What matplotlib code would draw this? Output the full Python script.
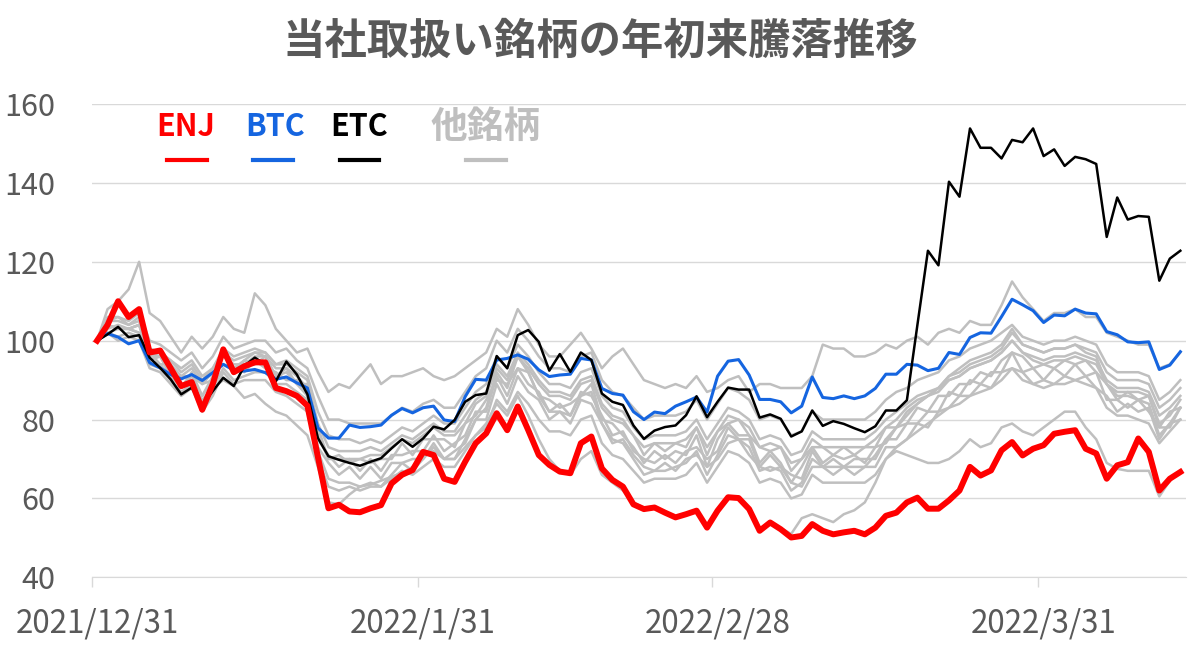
import numpy as np
import pandas as pd
import matplotlib
matplotlib.use('Agg')
import matplotlib.pyplot as plt
from matplotlib.lines import Line2D

plt.rcParams['font.family'] = ['Noto Sans CJK JP', 'DejaVu Sans']

dates = pd.date_range('2021-12-31', periods=104, freq='D')

enj = [100, 104, 110, 106, 108, 97, 97.5, 93, 88.5, 89.5,
       82.5, 89, 97.8, 92, 93.5, 94.5, 94.5, 88, 87.2, 86,
       83.5, 70.5, 57.5, 58.4, 56.7, 56.5, 57.5, 58.3, 63.8, 66,
       67.2, 71.8, 71, 65, 64.2, 69.3, 74, 76.5, 81.6, 77.3,
       83.3, 77.3, 71, 68.5, 66.8, 66.4, 74, 75.7, 67.6, 64.7,
       63, 58.5, 57.3, 57.7, 56.4, 55.2, 56, 56.9, 52.6, 56.9,
       60.3, 60.1, 57.3, 51.8, 53.9, 52.2, 50.1, 50.5, 53.5, 51.8,
       50.9, 51.4, 51.8, 50.9, 52.6, 55.6, 56.4, 59, 60.2, 57.4,
       57.4, 59.5, 62, 68, 65.8, 67.1, 72.2, 74.3, 70.9, 72.6,
       73.5, 76.4, 76.9, 77.3, 72.6, 71.4, 65, 68.4, 69.2, 75.2,
       71.8, 62, 65, 66.7]

btc = [100, 101.8, 100.9, 99.2, 100, 94.4, 93.1, 91.4, 90.3, 91.4,
       89.9, 91.9, 94, 92.5, 92.3, 92.7, 91.9, 90.2, 90.8, 89.3,
       88, 77.9, 75.3, 75.3, 78.6, 78, 78.2, 78.6, 81.1, 82.8,
       81.7, 83, 83.4, 79.9, 79.5, 85.8, 90.2, 90, 95.1, 95.5,
       96.4, 95.3, 92.6, 90.9, 91.3, 91.5, 95.5, 95.1, 87.9, 86.6,
       86.2, 82, 80, 81.9, 81.5, 83.4, 84.5, 85.7, 81.9, 91,
       94.8, 95.2, 91.3, 85.1, 85.1, 84.5, 81.7, 83.4, 90.8, 85.6,
       85.3, 86, 85.3, 86, 87.9, 91.5, 91.5, 94, 93.8, 92.4,
       93, 97, 96.5, 100.8, 102, 101.9, 106.1, 110.5, 109.1, 107.6,
       104.6, 106.5, 106.3, 108, 107, 106.8, 102.3, 101.5, 99.7, 99.5,
       99.7, 92.7, 93.8, 97.2]

etc = [100, 101.6, 103.5, 100.9, 101.4, 95.7, 93.1, 90.2, 86.4, 88.1,
       83.4, 87.2, 90.6, 88.5, 93.6, 95.7, 94, 89.7, 94.7, 91.4,
       86.4, 75.3, 70.7, 69.8, 69, 68.3, 69.3, 70.2, 72.7, 75,
       73.1, 75.2, 78.2, 77.5, 79.9, 84.5, 86.2, 86.6, 96.1, 93,
       101.4, 102.7, 99.7, 92.4, 96.6, 92.1, 97, 95.1, 86.6, 84.5,
       83.7, 78.5, 75.1, 77.2, 78.1, 78.5, 81.1, 85.9, 80.6, 84.5,
       88.1, 87.6, 87.6, 80.5, 81.3, 80.2, 75.7, 77, 82.3, 78.4,
       79.6, 78.9, 77.8, 76.8, 78.3, 82.3, 82.3, 84.9, 104, 122.8,
       119.1, 140.3, 136.5, 153.8, 148.9, 148.9, 146.2, 150.9, 150.3, 153.8,
       146.8, 148.5, 144.3, 146.6, 146, 144.8, 126.3, 136.3, 130.7, 131.6,
       131.4, 115.2, 120.8, 122.8]

# other coins (grey)
g1 = [100, 108, 110, 113, 120, 107, 105, 101, 97, 101, 98, 101, 106, 103, 102, 112, 109, 103, 100, 97, 98,
      92, 87, 89, 88, 91, 94, 89, 91, 91, 92, 93, 91, 90, 91, 93,
      95, 97, 103, 101, 108, 104, 99, 96, 96, 99, 102, 98, 93, 96, 98,
      94, 90, 89, 88, 89, 88, 91, 87, 88, 90, 91, 87, 89, 89, 88, 88, 88, 91, 99, 98, 98, 96, 96, 97, 99, 98,
      100, 101, 99, 102, 103, 102, 105, 104, 104, 109, 115, 111, 108, 105, 107, 107, 108, 106, 106, 102, 101, 100, 99, 99, 93, 94, 97]
g2 = [100, 103, 104, 103, 104, 97, 96, 93, 88, 90, 84, 88, 90, 88.5, 85.5, 86.5, 84, 82, 81, 78.5, 76,
      68, 59, 58.5, 61, 63, 63.5, 64.5, 65.5, 66.5, 68, 71, 72, 70, 70, 73,
      76, 79, 84, 81, 86, 81, 75, 70, 67, 66, 70, 72, 66, 64, 62,
      59, 57.6, 58, 56.6, 55.5, 56.2, 57.2, 53, 57.2, 60.6, 60.4, 57.6, 52, 54.2, 52.5, 51, 55, 56, 55, 54, 56, 57, 59, 64, 70, 72,
      71, 70, 69, 69, 70, 72, 75, 73, 74, 78, 79, 77, 76, 78, 80, 82, 82, 78, 75, 69, 67.5, 67, 67, 67, 60.5, 64.5, 67]
g3 = [100, 106, 106, 105, 107, 100, 99, 97, 95, 97, 93, 96, 101, 98, 99, 100, 100, 97, 98, 95, 93,
      86, 80, 80, 79, 79, 79, 79, 81, 83, 82, 84, 85, 83, 83, 87,
      91, 93, 100, 97, 103, 100, 96, 93, 93, 92, 96, 97, 90, 87, 86,
      83, 80, 81, 81, 81, 82, 85, 80, 84, 88, 87, 85, 80, 81, 80, 76, 77, 82, 80, 80, 80, 80, 80, 82, 85, 87,
      88, 90, 91, 92, 95, 96, 98, 99, 100, 102, 104, 101, 100, 99, 100, 100, 101, 100, 99, 94, 92, 92, 92, 91, 85, 87, 90]
g4 = [100, 105, 105, 104, 105, 98, 97, 95, 93, 95, 91, 93, 98, 96, 97, 98, 97, 94, 95, 93, 91,
      82, 76, 75, 75, 74, 75, 74, 76, 78, 77, 79, 81, 79, 79, 83,
      87, 89, 96, 93, 99, 96, 92, 89, 89, 88, 92, 93, 86, 83, 82,
      78, 75, 76, 76, 76, 77, 80, 75, 79, 83, 82, 80, 75, 76, 75, 71, 72, 77, 75, 75, 75, 75, 75, 77, 80, 82,
      84, 86, 87, 88, 91, 92, 94, 95, 96, 98, 102, 99, 98, 97, 98, 98, 99, 98, 97, 92, 90, 90, 90, 89, 83, 85, 88]
g5 = [100, 102, 103, 103, 104, 95, 96, 91, 91, 91, 89, 90, 97, 92, 95, 94, 96, 91, 93, 89, 89,
      78, 70, 71, 69, 70, 69, 70, 70, 74, 71, 75, 75, 75, 73, 79,
      81, 85, 90, 89, 93, 92, 86, 85, 83, 84, 86, 89, 80, 79, 76,
      73, 69, 72, 70, 72, 71, 76, 68, 75, 79, 76, 76, 69, 72, 69, 64, 68, 73, 69, 71, 70, 71, 69, 73, 74, 78,
      79, 83, 82, 86, 86, 89, 89, 92, 91, 95, 97, 96, 93, 94, 93, 95, 94, 95, 92, 89, 85, 87, 85, 86, 78, 82, 83]
g6 = [100, 105, 106, 104, 106, 95, 94, 91, 88, 91, 86, 90, 97, 93, 95, 97, 96, 91, 92, 89, 86,
      72, 65, 64, 64, 63, 64, 63, 66, 69, 67, 70, 73, 70, 70, 75,
      80, 83, 92, 88, 96, 92, 86, 82, 82, 81, 86, 87, 79, 75, 74,
      70, 66, 67, 67, 68, 69, 72, 66, 71, 76, 75, 73, 67, 68, 67, 62, 64, 70, 68, 68, 68, 68, 68, 71, 75, 78,
      81, 84, 86, 88, 91, 93, 95, 96, 97, 99, 103, 99, 98, 97, 98, 98, 99, 97, 96, 89, 86, 86, 85, 84, 76, 79, 83]
g7 = [100, 102, 101, 102, 101, 94, 93, 90, 87, 89, 85, 88, 93, 90, 91, 92, 92, 89, 89, 87, 85,
      73, 69, 66, 68, 65, 68, 65, 69, 69, 70, 70, 74, 70, 72, 74,
      80, 80, 89, 84, 91, 87, 85, 80, 82, 79, 85, 84, 79, 74, 75,
      71, 68, 67, 69, 67, 70, 71, 68, 70, 74, 75, 71, 68, 67, 68, 64, 63, 68, 68, 66, 68, 66, 68, 68, 73, 73,
      75, 79, 78, 82, 83, 86, 86, 89, 88, 92, 93, 92, 89, 90, 89, 91, 90, 91, 88, 86, 82, 84, 82, 83, 75, 79, 80]
g8 = [100, 104, 103, 103, 104, 97, 97, 95, 92, 94, 90, 93, 97, 95, 96, 97, 97, 94, 94, 92, 90,
      79, 73, 72, 72, 72, 73, 72, 74, 76, 75, 77, 79, 77, 77, 81,
      85, 87, 94, 91, 97, 94, 90, 87, 87, 86, 90, 91, 84, 81, 80,
      76, 73, 74, 74, 74, 75, 78, 73, 77, 81, 80, 78, 73, 74, 73, 69, 70, 75, 73, 73, 73, 73, 73, 75, 78, 80,
      83, 85, 86, 87, 90, 91, 93, 94, 95, 97, 100, 97, 96, 95, 96, 96, 97, 96, 95, 90, 88, 88, 88, 87, 81, 83, 86]
g9 = [100, 104, 103, 103, 102, 97, 94, 94, 88, 92, 86, 91, 94, 93, 92, 95, 93, 92, 90, 90, 86,
      75, 71, 68, 70, 67, 70, 67, 71, 71, 72, 72, 76, 72, 74, 76,
      82, 82, 91, 86, 93, 89, 87, 82, 84, 81, 87, 86, 81, 76, 77,
      72, 70, 69, 71, 69, 72, 73, 70, 72, 78, 75, 75, 68, 71, 68, 66, 65, 72, 68, 70, 68, 70, 70, 70, 75, 75,
      79, 79, 82, 82, 87, 86, 90, 89, 92, 92, 97, 92, 93, 90, 93, 91, 94, 91, 92, 85, 85, 83, 85, 82, 78, 78, 83]
g10 = [100, 102, 100, 101, 100, 93, 92, 89, 86, 88, 82, 86, 92, 89, 90, 90, 90, 87, 86, 84, 82,
       70, 63, 62, 63, 62, 63, 63, 65, 67, 66, 68, 70, 68, 68, 72,
       76, 78, 85, 82, 87, 84, 80, 77, 77, 76, 80, 81, 74, 71, 70,
       67, 64, 65, 65, 65, 66, 69, 64, 68, 72, 71, 69, 64, 65, 64, 60, 61, 66, 64, 64, 64, 64, 64, 66, 70, 73,
       75, 77, 79, 81, 83, 84, 86, 87, 88, 90, 93, 90, 89, 88, 89, 89, 90, 89, 88, 83, 81, 81, 80, 79, 74, 77, 80]
g11 = [100, 104, 103, 103, 102, 96, 96, 94, 91, 93, 89, 92, 96, 94, 94, 96, 96, 93, 93, 91, 88,
       76, 70, 70, 70, 70, 71, 71, 73, 75, 74, 76, 78, 76, 76, 79,
       84, 86, 93, 90, 96, 93, 89, 86, 86, 85, 89, 90, 83, 80, 79,
       76, 71, 74, 72, 74, 73, 78, 71, 77, 79, 80, 76, 73, 72, 73, 67, 70, 73, 73, 71, 73, 71, 73, 73, 78, 78,
       82, 84, 86, 88, 90, 91, 93, 94, 95, 97, 100, 97, 95, 94, 95, 95, 96, 95, 94, 89, 87, 87, 87, 86, 79, 81, 85]
others = [g1, g3, g4, g5, g6, g7, g8, g9, g10, g11, g2]

tick_dates = pd.to_datetime(['2021-12-31', '2022-01-31', '2022-02-28', '2022-03-31'])
tick_labels = ['2021/12/31', '2022/1/31', '2022/2/28', '2022/3/31']

txt = '#595959'
grey = '#BFBFBF'
half = pd.Timedelta(hours=12)

fig = plt.figure(figsize=(12, 6.46), dpi=100)
ax = fig.add_axes([0.0765, 0.1063, 0.9115, 0.7327])

for g in others:
    ax.plot(dates, g, color=grey, lw=1.8, zorder=2)
ax.plot(dates, btc, color='#1565E0', lw=2.2, zorder=3)
ax.plot(dates, etc, color='black', lw=1.8, zorder=4)
ax.plot(dates, enj, color='#FF0000', lw=4.3, zorder=5)

ax.set_ylim(40, 160)
ax.set_yticks(range(40, 161, 20))
ax.set_xlim(dates[0] - half, dates[-1] + half)
ax.yaxis.grid(True, color='#D9D9D9', lw=1)
ax.set_axisbelow(True)
for s in ['top', 'right', 'left']:
    ax.spines[s].set_visible(False)
ax.spines['bottom'].set_color('#D9D9D9')
ax.spines['bottom'].set_zorder(1)

ax.set_xticks(tick_dates - half)
ax.set_xticklabels([])
ax.tick_params(axis='x', which='major', length=7.5, color='#D9D9D9', width=1)
ax.set_xticks(tick_dates, minor=True)
ax.set_xticklabels(tick_labels, minor=True)
ax.tick_params(axis='x', which='minor', length=0, pad=22, labelsize=22.5, labelcolor=txt)
ax.tick_params(axis='y', length=0, pad=26, labelsize=22, labelcolor=txt)

fig.text(0.5, 1 - 42 / 646, '当社取扱い銘柄の年初来騰落推移', ha='center', va='center',
         fontsize=30.5, fontweight='bold', color=txt)

# legend drawn by hand
legend = [('ENJ', '#FF0000', 185.5, 187, 22), ('BTC', '#1565E0', 275.5, 272.5, 22),
          ('ETC', 'black', 359, 359.5, 22), ('他銘柄', grey, 486, 486, 26.5)]
for name, col, tx, lx, fs in legend:
    fig.text(tx / 1200, 1 - 127 / 646, name, ha='center', va='center',
             fontsize=fs, fontweight='bold', color=col)
    fig.add_artist(Line2D([(lx - 20) / 1200, (lx + 20) / 1200], [1 - 160 / 646] * 2,
                          color=col, lw=3, transform=fig.transFigure))

fig.savefig('out.png', dpi=100)
